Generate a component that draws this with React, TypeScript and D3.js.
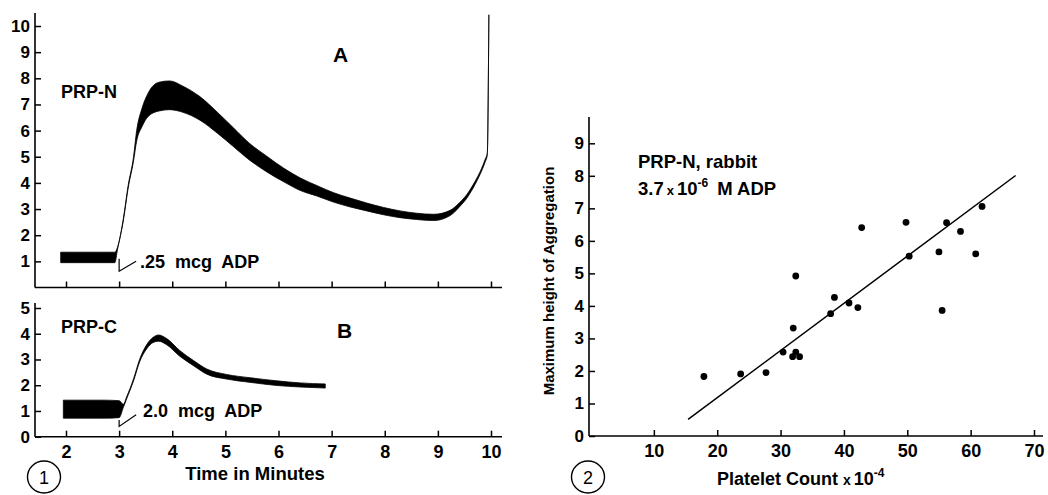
import * as d3 from 'd3';
import { useEffect, useRef } from 'react';

// Fig 1A: PRP-N trace (minutes, centre of trace, half width of noise band)
const timeA = [1.9, 2.2, 2.6, 2.92, 2.97, 3.08, 3.17, 3.27, 3.33, 3.43, 3.55, 3.75, 3.95, 4.2, 4.52, 4.85, 5.15, 5.45, 5.78, 6.1, 6.41, 6.72, 7.03, 7.35, 7.66, 7.98, 8.29, 8.6, 8.92, 9.23, 9.4, 9.55, 9.7, 9.8, 9.89, 9.93, 9.96];
const valueA = [1.15, 1.15, 1.15, 1.15, 1.5, 2.6, 3.85, 4.9, 5.8, 6.5, 7.0, 7.3, 7.35, 7.2, 6.85, 6.3, 5.75, 5.2, 4.72, 4.3, 3.95, 3.7, 3.45, 3.25, 3.08, 2.92, 2.8, 2.72, 2.68, 2.85, 3.15, 3.5, 4.0, 4.4, 4.85, 5.1, 10.4];
const halfA = [0.2, 0.2, 0.2, 0.2, 0.04, 0.04, 0.05, 0.08, 0.2, 0.35, 0.45, 0.55, 0.55, 0.5, 0.45, 0.4, 0.36, 0.32, 0.3, 0.26, 0.24, 0.2, 0.18, 0.17, 0.15, 0.14, 0.13, 0.12, 0.12, 0.1, 0.08, 0.07, 0.06, 0.05, 0.05, 0.04, 0.03];

// Fig 1B: PRP-C trace
const timeB = [1.95, 2.3, 2.7, 3.0, 3.08, 3.14, 3.27, 3.39, 3.52, 3.64, 3.74, 3.89, 4.14, 4.4, 4.65, 5.02, 5.47, 5.97, 6.41, 6.88];
const valueB = [1.07, 1.07, 1.07, 1.07, 1.2, 1.5, 2.2, 2.98, 3.5, 3.76, 3.83, 3.7, 3.24, 2.86, 2.53, 2.33, 2.2, 2.08, 2.01, 1.97];
const halfB = [0.35, 0.35, 0.35, 0.33, 0.06, 0.04, 0.04, 0.05, 0.08, 0.1, 0.12, 0.12, 0.11, 0.1, 0.1, 0.09, 0.09, 0.09, 0.08, 0.08];

const minuteTicks = [2, 3, 4, 5, 6, 7, 8, 9, 10];
const yTicksA = [1, 2, 3, 4, 5, 6, 7, 8, 9, 10];
const yTicksB = [0, 1, 2, 3, 4, 5];

// Fig 2: platelet count (x 10^-4) vs max height of aggregation
const plateletCount = [17.9, 23.7, 27.7, 30.4, 31.9, 32.4, 33.0, 32.0, 32.4, 37.9, 38.5, 40.8, 42.2, 42.8, 49.8, 50.3, 55.0, 55.5, 56.2, 58.4, 60.8, 61.8];
const maxHeight = [1.83, 1.91, 1.95, 2.58, 2.44, 2.58, 2.44, 3.32, 4.92, 3.76, 4.26, 4.09, 3.95, 6.41, 6.57, 5.53, 5.66, 3.86, 6.56, 6.29, 5.6, 7.06];
const fitX = [15.4, 67.1];
const fitY = [0.51, 8.01];
const countTicks = [10, 20, 30, 40, 50, 60, 70];
const heightTicks = [0, 1, 2, 3, 4, 5, 6, 7, 8, 9];

const FONT = '"Liberation Sans", Arial, Helvetica, sans-serif';

const App = () => {
  const svgRef = useRef(null);
  const width = 1048;
  const height = 495;

  useEffect(() => {
    const svg = d3.select(svgRef.current)
      .attr('width', width)
      .attr('height', height);
    svg.selectAll('*').remove();

    const x = d3.scaleLinear().domain([2, 10]).range([66, 491]);
    const yA = d3.scaleLinear().domain([0, 10]).range([287.5, 26]);
    const yB = d3.scaleLinear().domain([0, 5]).range([436.7, 308]);
    const xP = d3.scaleLinear().domain([0, 70]).range([590.5, 1034]);
    const yP = d3.scaleLinear().domain([0, 9]).range([436, 143.3]);
    const fmt = d3.format('d');

    const styleAxis = (g, size) => {
      g.select('.domain').remove();
      g.selectAll('line').attr('stroke', '#000').attr('stroke-width', 1.5);
      g.selectAll('text')
        .attr('fill', '#000')
        .attr('font-family', FONT)
        .attr('font-weight', 'bold')
        .attr('font-size', size);
    };

    const axisLine = (x1, y1, x2, y2) => {
      svg.append('line')
        .attr('x1', x1).attr('y1', y1).attr('x2', x2).attr('y2', y2)
        .attr('stroke', '#000').attr('stroke-width', 1.6);
    };

    // ---- panel A ----
    svg.append('g').attr('transform', `translate(0,${yA(0)})`)
      .call(d3.axisBottom(x).tickValues(minuteTicks).tickSize(-6).tickFormat(() => ''))
      .call(g => styleAxis(g, 17));
    svg.append('g').attr('transform', `translate(35,0)`)
      .call(d3.axisLeft(yA).tickValues(yTicksA).tickSize(-6).tickPadding(5).tickFormat(fmt))
      .call(g => styleAxis(g, 17));
    axisLine(35, yA(0), 502, yA(0));
    axisLine(35, yA(0), 35, 13);

    // ---- panel B ----
    svg.append('g').attr('transform', `translate(0,${yB(0)})`)
      .call(d3.axisBottom(x).tickValues(minuteTicks).tickSize(-6).tickPadding(9).tickFormat(fmt))
      .call(g => styleAxis(g, 18));
    svg.append('g').attr('transform', `translate(35,0)`)
      .call(d3.axisLeft(yB).tickValues(yTicksB).tickSize(-6).tickPadding(5).tickFormat(fmt))
      .call(g => styleAxis(g, 17));
    axisLine(35, yB(0), 502, yB(0));
    axisLine(35, yB(0), 35, 303);

    // traces as noisy bands
    const band = (ts, vs, hs, yScale) => {
      const pts = ts.map((t, i) => ({ t, v: vs[i], h: hs[i] }));
      const area = d3.area()
        .x(d => x(d.t))
        .y0(d => yScale(d.v - d.h))
        .y1(d => yScale(d.v + d.h))
        .curve(d3.curveMonotoneX);
      svg.append('path')
        .attr('d', area(pts))
        .attr('fill', '#000')
        .attr('stroke', '#000')
        .attr('stroke-width', 0.8);
    };
    band(timeA, valueA, halfA, yA);
    band(timeB, valueB, halfB, yB);

    // ADP markers
    const marker = (yScale, v0, v1, v2) => {
      const p = d3.path();
      p.moveTo(x(3), yScale(v0));
      p.lineTo(x(3), yScale(v1));
      p.lineTo(x(3) + 17, yScale(v2));
      svg.append('path').attr('d', p.toString())
        .attr('fill', 'none').attr('stroke', '#000').attr('stroke-width', 1.2);
    };
    marker(yA, 1.1, 0.62, 1.0);
    marker(yB, 0.65, 0.4, 0.85);

    const label = (tx, ty, str, size, weight, anchor = 'start') =>
      svg.append('text')
        .attr('x', tx).attr('y', ty)
        .attr('font-family', FONT)
        .attr('font-size', size)
        .attr('font-weight', weight)
        .attr('text-anchor', anchor)
        .attr('fill', '#000')
        .text(str);

    label(61, 98, 'PRP-N', 18, 'bold');
    label(333, 62, 'A', 21, 'bold');
    label(61, 333, 'PRP-C', 18, 'bold');
    label(337, 338, 'B', 21, 'bold');
    label(140, 268, '.25 mcg ADP', 18, 'bold').attr('word-spacing', 5);
    label(143, 417, '2.0 mcg ADP', 18, 'bold').attr('word-spacing', 5);
    label(255, 480, 'Time in Minutes', 18.5, 'bold', 'middle');

    const circled = (cx, cy, str) => {
      svg.append('ellipse').attr('cx', cx).attr('cy', cy).attr('rx', 16.5).attr('ry', 16)
        .attr('fill', 'none').attr('stroke', '#000').attr('stroke-width', 1.4);
      label(cx, cy + 6.5, str, 18, 'normal', 'middle');
    };
    circled(44, 477, '1');

    // ---- Fig 2 ----
    svg.append('g').attr('transform', `translate(0,${yP(0)})`)
      .call(d3.axisBottom(xP).tickValues(countTicks).tickSize(-6).tickPadding(8).tickFormat(fmt))
      .call(g => styleAxis(g, 18));
    svg.append('g').attr('transform', `translate(589,0)`)
      .call(d3.axisLeft(yP).tickValues(heightTicks).tickSize(-6).tickPadding(5).tickFormat(fmt))
      .call(g => styleAxis(g, 17));
    axisLine(589, yP(0), 1043, yP(0));
    axisLine(589, yP(0), 589, 117);

    svg.append('line')
      .attr('x1', xP(fitX[0])).attr('y1', yP(fitY[0]))
      .attr('x2', xP(fitX[1])).attr('y2', yP(fitY[1]))
      .attr('stroke', '#000').attr('stroke-width', 1.5);

    svg.selectAll('circle.pt')
      .data(plateletCount.map((c, i) => [c, maxHeight[i]]))
      .enter()
      .append('circle')
      .attr('class', 'pt')
      .attr('cx', d => xP(d[0]))
      .attr('cy', d => yP(d[1]))
      .attr('r', 3.4)
      .attr('fill', '#000');

    label(638, 168, 'PRP-N, rabbit', 18.5, 'bold');
    const conc = label(638, 195, '', 18.5, 'bold');
    conc.append('tspan').text('3.7');
    conc.append('tspan').attr('font-size', 13).attr('dx', 3).text('x');
    conc.append('tspan').attr('dx', 3).text('10');
    conc.append('tspan').attr('font-size', 12).attr('dy', -8).text('-6');
    conc.append('tspan').attr('dy', 8).attr('dx', 9).text('M ADP');

    const xl = label(717, 485, '', 18, 'bold');
    xl.append('tspan').text('Platelet Count ');
    xl.append('tspan').attr('font-size', 14).text('x');
    xl.append('tspan').attr('dx', 3).text('10');
    xl.append('tspan').attr('font-size', 12).attr('dy', -8).text('-4');

    svg.append('text')
      .attr('transform', 'translate(554,281) rotate(-90)')
      .attr('font-family', FONT)
      .attr('font-size', 15)
      .attr('font-weight', 'bold')
      .attr('text-anchor', 'middle')
      .attr('fill', '#000')
      .text('Maximum height of Aggregation');

    circled(588, 477, '2');
  }, []);

  return (
    <div style={{ position: 'absolute', left: 0, top: 0, width, height, background: '#fff' }}>
      <svg ref={svgRef} />
    </div>
  );
};

export default App;
